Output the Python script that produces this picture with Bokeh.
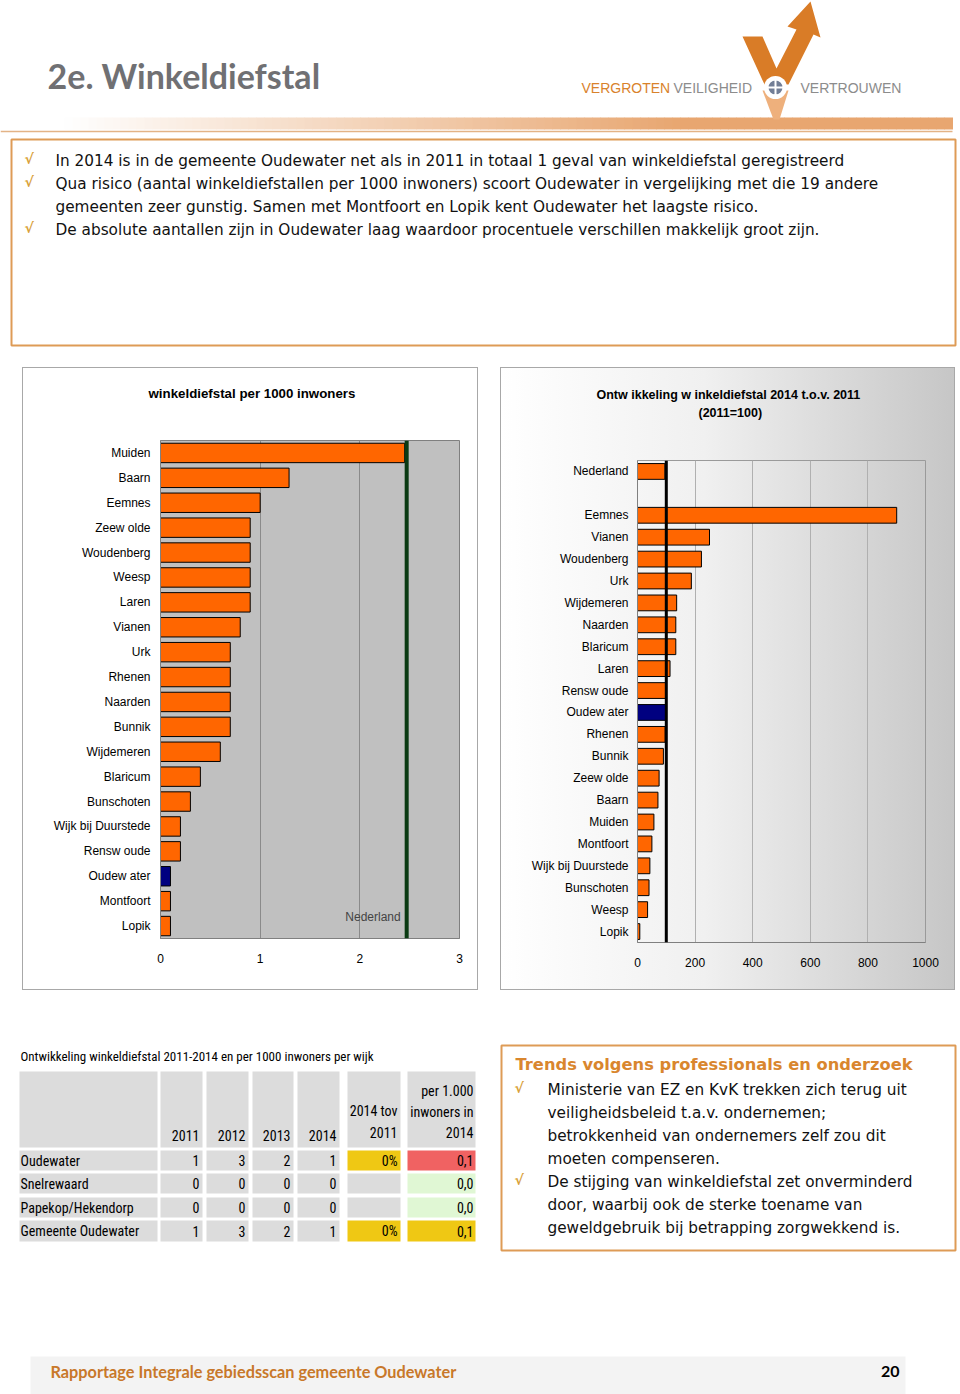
import numpy as np
from bokeh.plotting import figure
from bokeh.models import Range1d, FactorRange, Label, Span, Spacer, ColumnDataSource, FixedTicker, Title
from bokeh.layouts import column, row
from bokeh.core.properties import value
from bokeh.embed import file_html
from bokeh.resources import INLINE

# ---------------- data ----------------
# chart 1: winkeldiefstal per 1000 inwoners (2014), top to bottom
c1_title = "winkeldiefstal per 1000 inwoners"
c1_names = ["Muiden", "Baarn", "Eemnes", "Zeew olde", "Woudenberg", "Weesp", "Laren", "Vianen",
            "Urk", "Rhenen", "Naarden", "Bunnik", "Wijdemeren", "Blaricum", "Bunschoten",
            "Wijk bij Duurstede", "Rensw oude", "Oudew ater", "Montfoort", "Lopik"]
c1_values = [2.45, 1.29, 1.0, 0.9, 0.9, 0.9, 0.9, 0.8, 0.7, 0.7, 0.7, 0.7, 0.6, 0.4, 0.3,
             0.2, 0.2, 0.1, 0.1, 0.1]
c1_ticks = [0, 1, 2, 3]
nl_rate = 2.47

# chart 2: ontwikkeling 2014 t.o.v. 2011 (2011=100), top to bottom
c2_title = ["Ontw ikkeling w inkeldiefstal 2014 t.o.v. 2011", "(2011=100)"]
c2_nl_name = "Nederland"
c2_nl_value = 95
c2_names = ["Eemnes", "Vianen", "Woudenberg", "Urk", "Wijdemeren", "Naarden", "Blaricum", "Laren",
            "Rensw oude", "Oudew ater", "Rhenen", "Bunnik", "Zeew olde", "Baarn", "Muiden",
            "Montfoort", "Wijk bij Duurstede", "Bunschoten", "Weesp", "Lopik"]
c2_values = [900, 250, 222, 187, 136, 133, 133, 113, 100, 100, 96, 90, 75, 71, 57, 50, 43, 40, 35, 8]
c2_ticks = [0, 200, 400, 600, 800, 1000]
c2_ref = 100

# table: per wijk
t_rows = ["Oudewater", "Snelrewaard", "Papekop/Hekendorp", "Gemeente Oudewater"]
t_2011 = [1, 0, 0, 1]
t_2012 = [3, 0, 0, 3]
t_2013 = [2, 0, 0, 2]
t_2014 = [1, 0, 0, 1]
t_tov = ["0%", "", "", "0%"]
t_per1000 = ["0,1", "0,0", "0,0", "0,1"]
t_years = ["2011", "2012", "2013", "2014"]

# ---------------- styles ----------------
ORANGE = "#ff6600"
NAVY = "#000080"
BOX = "#de9b56"
BULLET = "#d9a23c"
HILITE = "Oudew ater"
TXT_FONT = value("DejaVu Sans")
NARROW = value("Roboto Condensed")
W = 960


def canvas(width, x0, y0, y1):
    p = figure(width=width, height=y1 - y0, x_range=Range1d(x0, x0 + width), y_range=Range1d(y1, y0),
               output_backend="svg", toolbar_location=None, min_border=0,
               x_axis_location=None, y_axis_location=None)
    p.xgrid.visible = False
    p.ygrid.visible = False
    p.outline_line_color = None
    p.background_fill_color = "white"
    p.border_fill_color = "white"
    return p


def add_titles(p, items, fill, size):
    """items: list of (text, offset, valign) top to bottom; a spacer above and a filler below."""
    common = dict(text_font="Liberation Sans", text_font_size=size, text_font_style="bold",
                  text_color="black", align="left")
    # first added = nearest to the frame
    p.add_layout(Title(text=" ", standoff=fill, **common), "above")
    for text, off, va in reversed(items):
        p.add_layout(Title(text=text, offset=off, standoff=0, vertical_align=va, **common), "above")
    p.add_layout(Title(text=" ", standoff=0, **common), "above")


def style_axes(p, ystandoff):
    for ax in (p.xaxis[0], p.yaxis[0]):
        ax.axis_line_color = "#808080"
        ax.major_tick_line_color = None
        ax.minor_tick_line_color = None
        ax.major_tick_out = 0
        ax.major_tick_in = 0
        ax.major_label_text_font = "Liberation Sans"
        ax.major_label_text_font_size = "12px"
        ax.major_label_text_color = "black"
    p.xaxis.major_label_standoff = 15
    p.yaxis.major_label_standoff = ystandoff


# ================= header =================
h = canvas(W, 0, 0, 363)
xs = np.linspace(0, 952, 120)
c0 = np.array([255, 255, 255])
c1c = np.array([232, 166, 112])
cols = []
for x in xs[:-1]:
    t = min(max((x - 60) / 620.0, 0), 1)
    c = (c0 + (c1c - c0) * t).astype(int)
    cols.append("#%02x%02x%02x" % tuple(c))
h.quad(left=xs[:-1], right=xs[1:] + 0.5, top=[117] * 119, bottom=[129] * 119, fill_color=cols, line_color=None)
h.segment(x0=[0], y0=[131], x1=[952], y1=[131], line_color="#e3b386", line_width=1.5)
# V logo
h.patch(x=[742, 762, 776, 796, 787, 810, 820, 813, 788, 764],
        y=[36, 36, 68, 29, 26, 1, 37, 34, 84, 84], fill_color="#d97c27", line_color=None)
h.patch(x=[762, 788, 779, 773], y=[90, 90, 119, 119], fill_color="#eeb07c", line_color=None)
h.scatter(x=[775], y=[87], size=23, marker="circle", fill_color="white", line_color=None)
h.scatter(x=[775], y=[87], size=16, marker="circle_cross", fill_color="#727e96", line_color="white", line_width=2)
h.text(x=[47], y=[75], text=["2e. Winkeldiefstal"], text_font=value("Lato"), text_font_style="bold",
       text_font_size="34px", text_color="#707073", text_baseline="middle")
h.text(x=[581, 673, 800], y=[87, 87, 87], text=["VERGROTEN", "VEILIGHEID", "VERTROUWEN"],
       text_font=value("Liberation Sans"), text_font_size="14px",
       text_color=["#d9822b", "#8c8c8c", "#8c8c8c"], text_baseline="middle")
# text box
h.quad(left=[11], right=[955], top=[139], bottom=[345], fill_color=None, line_color=BOX, line_width=2)
top_lines = ["In 2014 is in de gemeente Oudewater net als in 2011 in totaal 1 geval van winkeldiefstal geregistreerd",
             "Qua risico (aantal winkeldiefstallen per 1000 inwoners) scoort Oudewater in vergelijking met die 19 andere",
             "gemeenten zeer gunstig. Samen met Montfoort en Lopik kent Oudewater het laagste risico.",
             "De absolute aantallen zijn in Oudewater laag waardoor procentuele verschillen makkelijk groot zijn."]
h.text(x=[55] * 4, y=[160 + 23 * i for i in range(4)], text=top_lines, text_font=TXT_FONT,
       text_font_size="15.3px", text_color="#111111", text_baseline="middle")
h.text(x=[24] * 3, y=[158, 181, 227], text=["√"] * 3, text_font=TXT_FONT, text_font_style="bold",
       text_font_size="14px", text_color=BULLET, text_baseline="middle")

# ================= chart 1 =================
f1 = figure(width=456, height=623, x_range=Range1d(0, 3), y_range=FactorRange(*reversed(c1_names)),
            output_backend="svg", toolbar_location=None, title=None,
            min_border_left=138, min_border_right=19, min_border_top=73, min_border_bottom=52)
src1 = ColumnDataSource(dict(name=c1_names, val=c1_values,
                             color=[NAVY if n == HILITE else ORANGE for n in c1_names]))
f1.hbar(y="name", left=0, right="val", height=0.78, fill_color="color", line_color="black",
        line_width=1, source=src1)
f1.add_layout(Span(location=nl_rate, dimension="height", line_color="#0a3a12", line_width=4))
f1.background_fill_color = "#c0c0c0"
f1.border_fill_alpha = 0
f1.outline_line_color = "#808080"
f1.ygrid.visible = False
f1.xgrid.grid_line_color = "#8a8a8a"
f1.xaxis.ticker = FixedTicker(ticks=c1_ticks)
style_axes(f1, 10)
f1.add_layout(Label(x=nl_rate, y=22, x_units="data", y_units="screen", x_offset=-6, text="Nederland",
                    text_align="right", text_baseline="middle", text_font="Liberation Sans",
                    text_font_size="12px"))
add_titles(f1, [(c1_title, -12, "top")], fill=21, size="13.3px")
f1.styles = {"outline": "1px solid #a8a8a8", "outline-offset": "-1px", "background": "#ffffff"}

# ================= chart 2 =================
c2_factors = [c2_nl_name, " "] + c2_names
f2 = figure(width=455, height=623, x_range=Range1d(0, 1000), y_range=FactorRange(*reversed(c2_factors)),
            output_backend="svg", toolbar_location=None, title=None,
            min_border_left=137, min_border_right=30, min_border_top=93, min_border_bottom=48)
bar_names = [c2_nl_name] + c2_names
src2 = ColumnDataSource(dict(name=bar_names, val=[c2_nl_value] + c2_values,
                             color=[NAVY if n == HILITE else ORANGE for n in bar_names]))
f2.hbar(y="name", left=0, right="val", height=0.72, fill_color="color", line_color="black",
        line_width=1, source=src2)
f2.add_layout(Span(location=c2_ref, dimension="height", line_color="black", line_width=3))
f2.background_fill_alpha = 0
f2.border_fill_alpha = 0
f2.outline_line_color = "#9a9a9a"
f2.ygrid.visible = False
f2.xgrid.grid_line_color = "#b0b0b0"
f2.xaxis.ticker = FixedTicker(ticks=c2_ticks)
style_axes(f2, 9)
add_titles(f2, [(c2_title[0], -41, "top"), (c2_title[1], 61, "bottom")], fill=25, size="12.5px")
f2.styles = {"outline": "1px solid #a8a8a8", "outline-offset": "-1px",
             "background": "linear-gradient(to right, #ffffff 0%, #f0f0f0 45%, #c6c6c6 100%)"}

# ================= bottom =================
b = canvas(W, 0, 998, 1394)
b.text(x=[20], y=[1056], text=["Ontwikkeling winkeldiefstal 2011-2014 en per 1000 inwoners  per wijk"],
       text_font=NARROW, text_font_size="13px", text_color="black", text_baseline="middle")
col_l = [19, 160, 206, 252, 297, 347, 407]
col_r = [157, 202, 248, 293, 339, 400, 475]
row_t = [1150, 1173, 1197, 1220]
row_b = [1170, 1193, 1217, 1241]
GRAY = "#dcdcdc"
YEL = "#efc814"
RED = "#f06262"
GRN = "#e0f7d4"
tov_colors = [YEL, GRAY, GRAY, YEL]
per_colors = [RED, GRN, GRN, YEL]
b.quad(left=col_l, right=col_r, top=[1071] * 7, bottom=[1147] * 7, fill_color=GRAY, line_color=None)
for i in range(4):
    fills = [GRAY] * 5 + [tov_colors[i], per_colors[i]]
    b.quad(left=col_l, right=col_r, top=[row_t[i]] * 7, bottom=[row_b[i]] * 7, fill_color=fills, line_color=None)
tfont = dict(text_font=NARROW, text_font_size="14px", text_color="black", text_baseline="middle")
b.text(x=[c - 3 for c in col_r[1:5]], y=[1135] * 4, text=t_years, text_align="right", **tfont)
b.text(x=[col_r[5] - 3] * 2, y=[1110, 1132], text=["2014 tov", "2011"], text_align="right", **tfont)
b.text(x=[col_r[6] - 2] * 3, y=[1090, 1111, 1132], text=["per 1.000", "inwoners in", "2014"],
       text_align="right", **tfont)
ymid = [(row_t[i] + row_b[i]) / 2 for i in range(4)]
b.text(x=[20] * 4, y=ymid, text=t_rows, text_align="left", **tfont)
for ci, vals in enumerate([t_2011, t_2012, t_2013, t_2014]):
    b.text(x=[col_r[ci + 1] - 3] * 4, y=ymid, text=[str(v) for v in vals], text_align="right", **tfont)
b.text(x=[col_r[5] - 3] * 4, y=ymid, text=t_tov, text_align="right", **tfont)
b.text(x=[col_r[6] - 2] * 4, y=ymid, text=t_per1000, text_align="right", **tfont)

# trends box
b.quad(left=[501], right=[955], top=[1045], bottom=[1250], fill_color=None, line_color=BOX, line_width=2)
b.text(x=[515], y=[1064], text=["Trends volgens professionals en onderzoek"], text_font=TXT_FONT,
       text_font_style="bold", text_font_size="16.3px", text_color="#d9862e", text_baseline="middle")
trend_lines = ["Ministerie van EZ en KvK trekken zich terug uit",
               "veiligheidsbeleid t.a.v. ondernemen;",
               "betrokkenheid van ondernemers zelf zou dit",
               "moeten compenseren.",
               "De stijging van winkeldiefstal zet onverminderd",
               "door, waarbij ook de sterke toename van",
               "geweldgebruik bij betrapping zorgwekkend is."]
b.text(x=[547] * 7, y=[1089 + 23 * i for i in range(7)], text=trend_lines, text_font=TXT_FONT,
       text_font_size="15.3px", text_color="#111111", text_baseline="middle")
b.text(x=[514] * 2, y=[1087, 1179], text=["√"] * 2, text_font=TXT_FONT, text_font_style="bold",
       text_font_size="14px", text_color=BULLET, text_baseline="middle")

# footer
b.quad(left=[30], right=[905], top=[1356], bottom=[1394], fill_color="#f3f3f3", line_color=None)
b.text(x=[50], y=[1371], text=["Rapportage Integrale gebiedsscan gemeente Oudewater"], text_font=value("Lato"),
       text_font_style="bold", text_font_size="16.3px", text_color="#c8782a", text_baseline="middle")
b.text(x=[899], y=[1371], text=["20"], text_font=value("Lato"), text_font_style="bold",
       text_font_size="16px", text_color="black", text_baseline="middle", text_align="right")

middle = row(Spacer(width=22, height=635),
             column(Spacer(width=456, height=4), f1, Spacer(width=456, height=8)),
             Spacer(width=22, height=635),
             column(Spacer(width=455, height=4), f2, Spacer(width=455, height=8)),
             Spacer(width=5, height=635))
page = column(h, middle, b)

open("out.html", "w").write(file_html(page, INLINE))
